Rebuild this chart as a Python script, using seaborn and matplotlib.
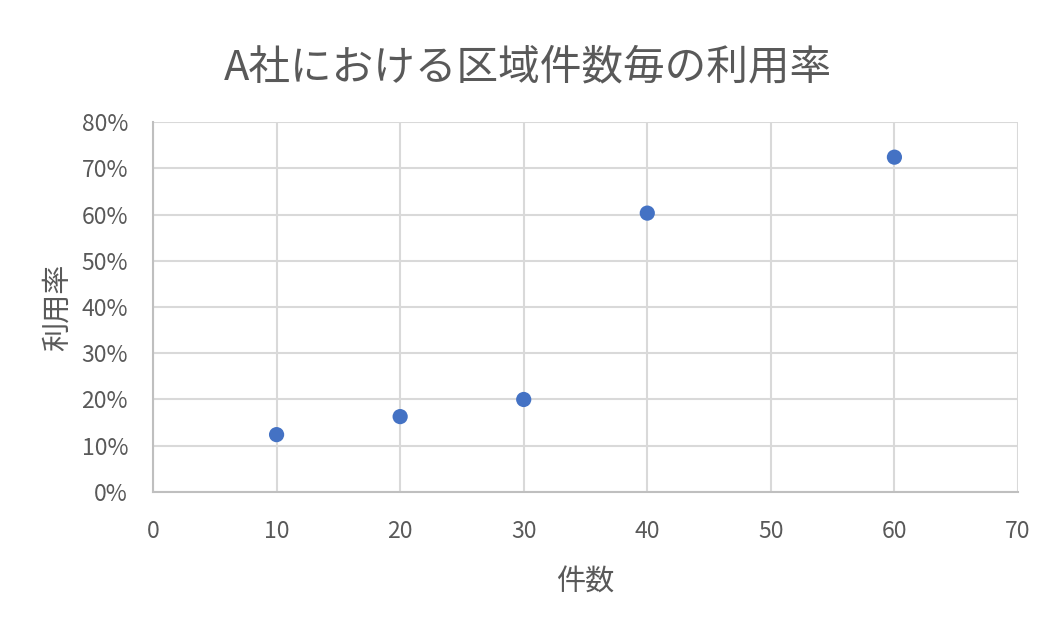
import pandas as pd
import matplotlib.pyplot as plt
import seaborn as sns
from matplotlib.ticker import PercentFormatter

# ------------------------------------------------------------------------------
# DATA
# ------------------------------------------------------------------------------
counts = [10, 20, 30, 40, 60]
rates = [0.124, 0.163, 0.200, 0.603, 0.724]

df = pd.DataFrame({'件数': counts, '利用率': rates})

# ------------------------------------------------------------------------------
# STYLE
# ------------------------------------------------------------------------------
sns.set_style("white")
plt.rcParams['font.family'] = ['Noto Sans CJK JP', 'DejaVu Sans']
text_color = '#595959'

fig = plt.figure(figsize=(10.56, 6.28), dpi=100)
ax = fig.add_axes([0.1449, 0.2166, 0.8191, 0.5891])

sns.scatterplot(data=df, x='件数', y='利用率', ax=ax, color='#4472C4',
                s=120, edgecolor='none', zorder=3)

ax.set_xlim(0, 70)
ax.set_ylim(0, 0.8)
ax.set_xticks(range(0, 71, 10))
ax.set_yticks([i / 10 for i in range(0, 9)])
ax.yaxis.set_major_formatter(PercentFormatter(1.0, decimals=0))

ax.grid(True, color='#d9d9d9', linewidth=1.5)
ax.set_axisbelow(True)
for side in ['top', 'right']:
    ax.spines[side].set_visible(False)
for side in ['left', 'bottom']:
    ax.spines[side].set_color('#bfbfbf')
    ax.spines[side].set_linewidth(1.5)

ax.tick_params(axis='both', length=0, labelsize=16.5, labelcolor=text_color)
ax.tick_params(axis='x', pad=20)
ax.tick_params(axis='y', pad=18)

ax.set_xlabel('件数', fontsize=21, color=text_color, labelpad=18)
ax.set_ylabel('利用率', fontsize=21, color=text_color, labelpad=6)
fig.suptitle('A社における区域件数毎の利用率', fontsize=30, color=text_color,
             y=0.925)

fig.savefig('out.png', dpi=100)
